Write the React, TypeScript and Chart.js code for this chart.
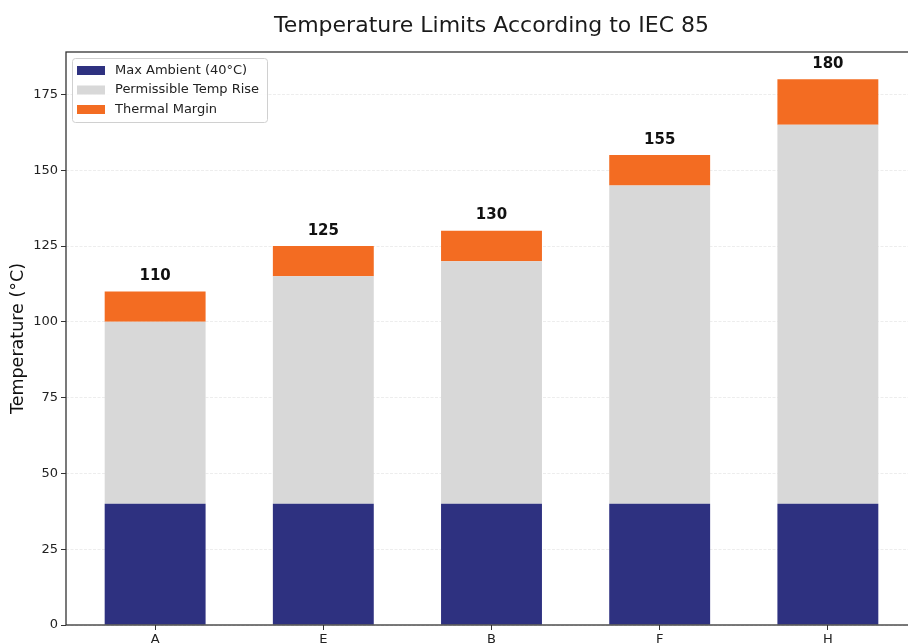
import React, { useEffect, useRef } from "react";
import { Chart, registerables } from "chart.js";

Chart.register(...registerables);

const categories = ["A", "E", "B", "F", "H"];
const maxAmbient = [40, 40, 40, 40, 40];
const permissibleRise = [60, 75, 80, 105, 125];
const thermalMargin = [10, 10, 10, 10, 15];
const yTickValues = [0, 25, 50, 75, 100, 125, 150, 175];
const seriesNames = ["Max Ambient (40°C)", "Permissible Temp Rise", "Thermal Margin"];
const seriesColors = ["#2E3180", "#D8D8D8", "#F36C22"];
const titleText = "Temperature Limits According to IEC 85";
const yAxisLabel = "Temperature (°C)";

const FONT = "'DejaVu Sans', 'Liberation Sans', sans-serif";

const overlayPlugin = {
  id: "overlay",
  afterDraw(chart: any) {
    const { ctx, chartArea } = chart;
    const xs = chart.scales.x;
    const ys = chart.scales.y;
    ctx.save();
    // frame
    ctx.strokeStyle = "#333333";
    ctx.lineWidth = 1.3;
    ctx.setLineDash([]);
    ctx.strokeRect(chartArea.left, chartArea.top, chartArea.right - chartArea.left, chartArea.bottom - chartArea.top);

    // totals
    ctx.fillStyle = "#111111";
    ctx.font = `bold 15px ${FONT}`;
    ctx.textAlign = "center";
    ctx.textBaseline = "alphabetic";
    categories.forEach((_, i) => {
      const total = maxAmbient[i] + permissibleRise[i] + thermalMargin[i];
      const x = xs.getPixelForValue(i);
      const y = ys.getPixelForValue(total) - 11.5;
      ctx.fillText(String(total), x, y);
    });

    // title
    ctx.font = `22px ${FONT}`;
    ctx.fillStyle = "#1a1a1a";
    ctx.fillText(titleText, (chartArea.left + chartArea.right) / 2, 32);

    // legend
    const lx = chartArea.left + 6;
    const ly = chartArea.top + 6;
    const lw = 195;
    const lh = 64;
    ctx.fillStyle = "rgba(255,255,255,0.85)";
    ctx.strokeStyle = "#d0d0d0";
    ctx.lineWidth = 1;
    ctx.beginPath();
    (ctx as any).roundRect(lx + 0.5, ly + 0.5, lw, lh, 3);
    ctx.fill();
    ctx.stroke();
    ctx.font = `13px ${FONT}`;
    ctx.textAlign = "left";
    ctx.textBaseline = "middle";
    seriesNames.forEach((name, i) => {
      const cy = ly + 12.5 + i * 19.5;
      ctx.fillStyle = seriesColors[i];
      ctx.fillRect(lx + 5, cy - 4.5, 28, 9);
      ctx.fillStyle = "#222222";
      ctx.fillText(name, lx + 43, cy);
    });
    ctx.restore();
  },
};

export default function App() {
  const canvasRef = useRef<HTMLCanvasElement | null>(null);

  useEffect(() => {
    const canvas = canvasRef.current;
    if (!canvas) return;
    const mk = (vals: number[]) => vals.map((v, i) => ({ x: i, y: v }));
    const chart = new Chart(canvas, {
      type: "bar",
      data: {
        datasets: [
          { label: seriesNames[0], data: mk(maxAmbient) as any, backgroundColor: seriesColors[0] },
          { label: seriesNames[1], data: mk(permissibleRise) as any, backgroundColor: seriesColors[1] },
          { label: seriesNames[2], data: mk(thermalMargin) as any, backgroundColor: seriesColors[2] },
        ].map((d) => ({
          ...d,
          stack: "s",
          borderWidth: 0,
          categoryPercentage: 1,
          barPercentage: 0.6,
        })),
      },
      options: {
        responsive: false,
        animation: false,
        devicePixelRatio: 1,
        layout: { padding: { top: 52, right: 23, left: 0, bottom: 0 } },
        plugins: {
          legend: { display: false },
          title: { display: false },
          tooltip: { enabled: false },
        },
        scales: {
          x: {
            type: "linear",
            min: -0.53,
            max: 4.53,
            offset: false,
            afterBuildTicks: (s: any) => {
              s.ticks = categories.map((_, i) => ({ value: i }));
            },
            afterFit: (s: any) => {
              s.height = 55;
            },
            grid: {
              offset: false,
              drawOnChartArea: false,
              drawTicks: true,
              tickLength: 5,
              tickColor: "#333333",
              tickWidth: 1,
            },
            border: { display: false },
            ticks: {
              autoSkip: false,
              maxRotation: 0,
              padding: 2,
              color: "#222222",
              font: { family: FONT, size: 13 },
              callback: (v: any) => categories[Math.round(Number(v))] ?? "",
            },
          },
          y: {
            type: "linear",
            stacked: true,
            min: 0,
            max: 189,
            z: 1,
            afterBuildTicks: (s: any) => {
              s.ticks = yTickValues.map((v) => ({ value: v }));
            },
            afterFit: (s: any) => {
              s.width = 66;
            },
            grid: {
              color: "rgba(0,0,0,0.09)",
              lineWidth: 0.8,
              drawTicks: true,
              tickLength: 5,
              tickColor: "#333333",
              tickWidth: 1,
              tickBorderDash: [],
            },
            border: { display: false, dash: [3, 1.5] },
            ticks: {
              padding: 3,
              color: "#222222",
              font: { family: FONT, size: 13 },
              callback: (v: any) => String(v),
            },
            title: {
              display: true,
              text: yAxisLabel,
              color: "#111111",
              font: { family: FONT, size: 17.5 },
              padding: { top: 7.5, bottom: 0 },
            },
          },
        },
      } as any,
      plugins: [overlayPlugin],
    });
    return () => chart.destroy();
  }, []);

  return (
    <div
      style={{
        position: "absolute",
        left: 0,
        top: 0,
        width: 908,
        height: 643,
        overflow: "hidden",
        background: "#ffffff",
      }}
    >
      <canvas ref={canvasRef} width={940} height={680} style={{ width: 940, height: 680, display: "block" }} />
    </div>
  );
}
